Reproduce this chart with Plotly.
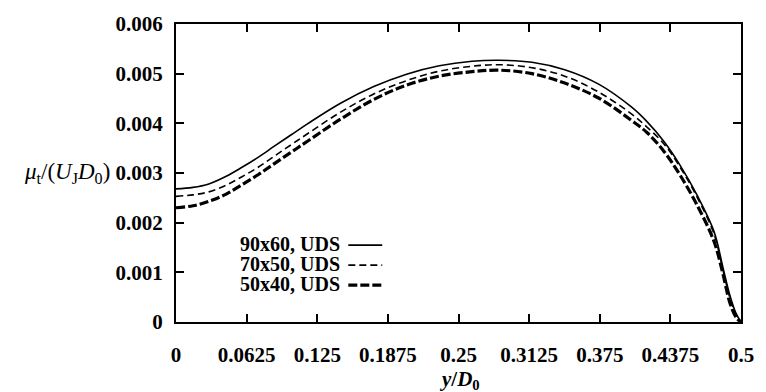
import plotly.graph_objects as go

# Radial position y/D0 (shared by all three grids)
y_pos = [0.0, 0.015, 0.029, 0.044, 0.058, 0.073, 0.087, 0.102, 0.117, 0.146, 0.175,
         0.204, 0.233, 0.262, 0.286, 0.315, 0.344, 0.374, 0.403, 0.417, 0.432,
         0.446, 0.461, 0.476, 0.484, 0.490, 0.4955, 0.5]

# Eddy viscosity mu_t/(U_J D_0) for each grid (UDS)
mu_90x60 = [0.00268, 0.00271, 0.00278, 0.00293, 0.00311, 0.00332, 0.00354, 0.00377,
            0.00400, 0.00441, 0.00474, 0.00499, 0.00516, 0.00525, 0.00527, 0.00523,
            0.00508, 0.00479, 0.00433, 0.00403, 0.00363, 0.00316, 0.00256, 0.00183,
            0.00110, 0.00055, 0.00018, 0.0]
mu_70x50 = [0.00253, 0.00256, 0.00262, 0.00275, 0.00292, 0.00312, 0.00334, 0.00357,
            0.00380, 0.00423, 0.00459, 0.00486, 0.00505, 0.00515, 0.00518, 0.00512,
            0.00495, 0.00463, 0.00419, 0.00392, 0.00358, 0.00312, 0.00252, 0.00178,
            0.00105, 0.00050, 0.00015, 0.0]
mu_50x40 = [0.00230, 0.00234, 0.00243, 0.00257, 0.00276, 0.00297, 0.00319, 0.00342,
            0.00365, 0.00409, 0.00448, 0.00477, 0.00495, 0.00504, 0.00507, 0.00500,
            0.00481, 0.00451, 0.00406, 0.00381, 0.00343, 0.00296, 0.00236, 0.00163,
            0.00097, 0.00040, 0.00010, 0.0]

x_ticks = [0, 0.0625, 0.125, 0.1875, 0.25, 0.3125, 0.375, 0.4375, 0.5]
x_tick_text = ["0", "0.0625", "0.125", "0.1875", "0.25", "0.3125", "0.375", "0.4375", "0.5"]
y_ticks = [0, 0.001, 0.002, 0.003, 0.004, 0.005, 0.006]
y_tick_text = ["0", "0.001", "0.002", "0.003", "0.004", "0.005", "0.006"]

series_labels = ["90x60, UDS", "70x50, UDS", "50x40, UDS"]
series_styles = [
    dict(width=1.6, dash="solid"),
    dict(width=1.6, dash="7px,4px"),
    dict(width=3.2, dash="9px,3px"),
]

SERIF = "Liberation Serif"

fig = go.Figure()
for ys, style in zip([mu_90x60, mu_70x50, mu_50x40], series_styles):
    fig.add_trace(go.Scatter(
        x=y_pos, y=ys, mode="lines", showlegend=False,
        line=dict(color="black", shape="spline", smoothing=1.0, **style),
    ))

# Legend: label text followed by a short line sample
legend_rows_y = [0.262, 0.195, 0.128]
for label, style, yp in zip(series_labels, series_styles, legend_rows_y):
    fig.add_annotation(
        x=0.293, y=yp, xref="paper", yref="paper", xanchor="right", yanchor="middle",
        text="<b>" + label + "</b>", showarrow=False,
        font=dict(family=SERIF, size=20, color="black"),
    )
    fig.add_shape(
        type="line", xref="paper", yref="paper",
        x0=0.305, x1=0.365, y0=yp - 0.004, y1=yp - 0.004,
        line=dict(color="black", **style),
    )

# Axis titles
fig.add_annotation(
    x=-0.114, y=0.5, xref="paper", yref="paper", xanchor="right", yanchor="middle",
    text="<i>μ</i><sub>t</sub>/(<i>U</i><sub>J</sub><i>D</i><sub>0</sub>)",
    showarrow=False, font=dict(family=SERIF, size=23, color="black"),
)
fig.add_annotation(
    x=0.502, y=-0.195, xref="paper", yref="paper", xanchor="center", yanchor="middle",
    text="<b><i>y</i>/<i>D</i><sub>0</sub></b>",
    showarrow=False, font=dict(family=SERIF, size=21, color="black"),
)

axis_common = dict(
    showline=True, linecolor="black", linewidth=2, mirror="allticks",
    ticks="inside", ticklen=8, tickwidth=1.5, tickcolor="black",
    showgrid=False, zeroline=False,
    tickfont=dict(family=SERIF, size=21, color="black"),
)

fig.update_xaxes(
    range=[0, 0.5], tickmode="array", tickvals=x_ticks,
    ticktext=["<b>" + t + "</b>" for t in x_tick_text],
    ticklabelstandoff=13, **axis_common,
)
fig.update_yaxes(
    range=[0, 0.006], tickmode="array", tickvals=y_ticks,
    ticktext=["<b>" + t + "</b>" for t in y_tick_text],
    ticklabelstandoff=7, **axis_common,
)

fig.update_layout(
    width=766, height=392,
    margin=dict(l=176, r=18, t=20, b=70),
    paper_bgcolor="white", plot_bgcolor="white",
)

fig.write_html("out.html")
